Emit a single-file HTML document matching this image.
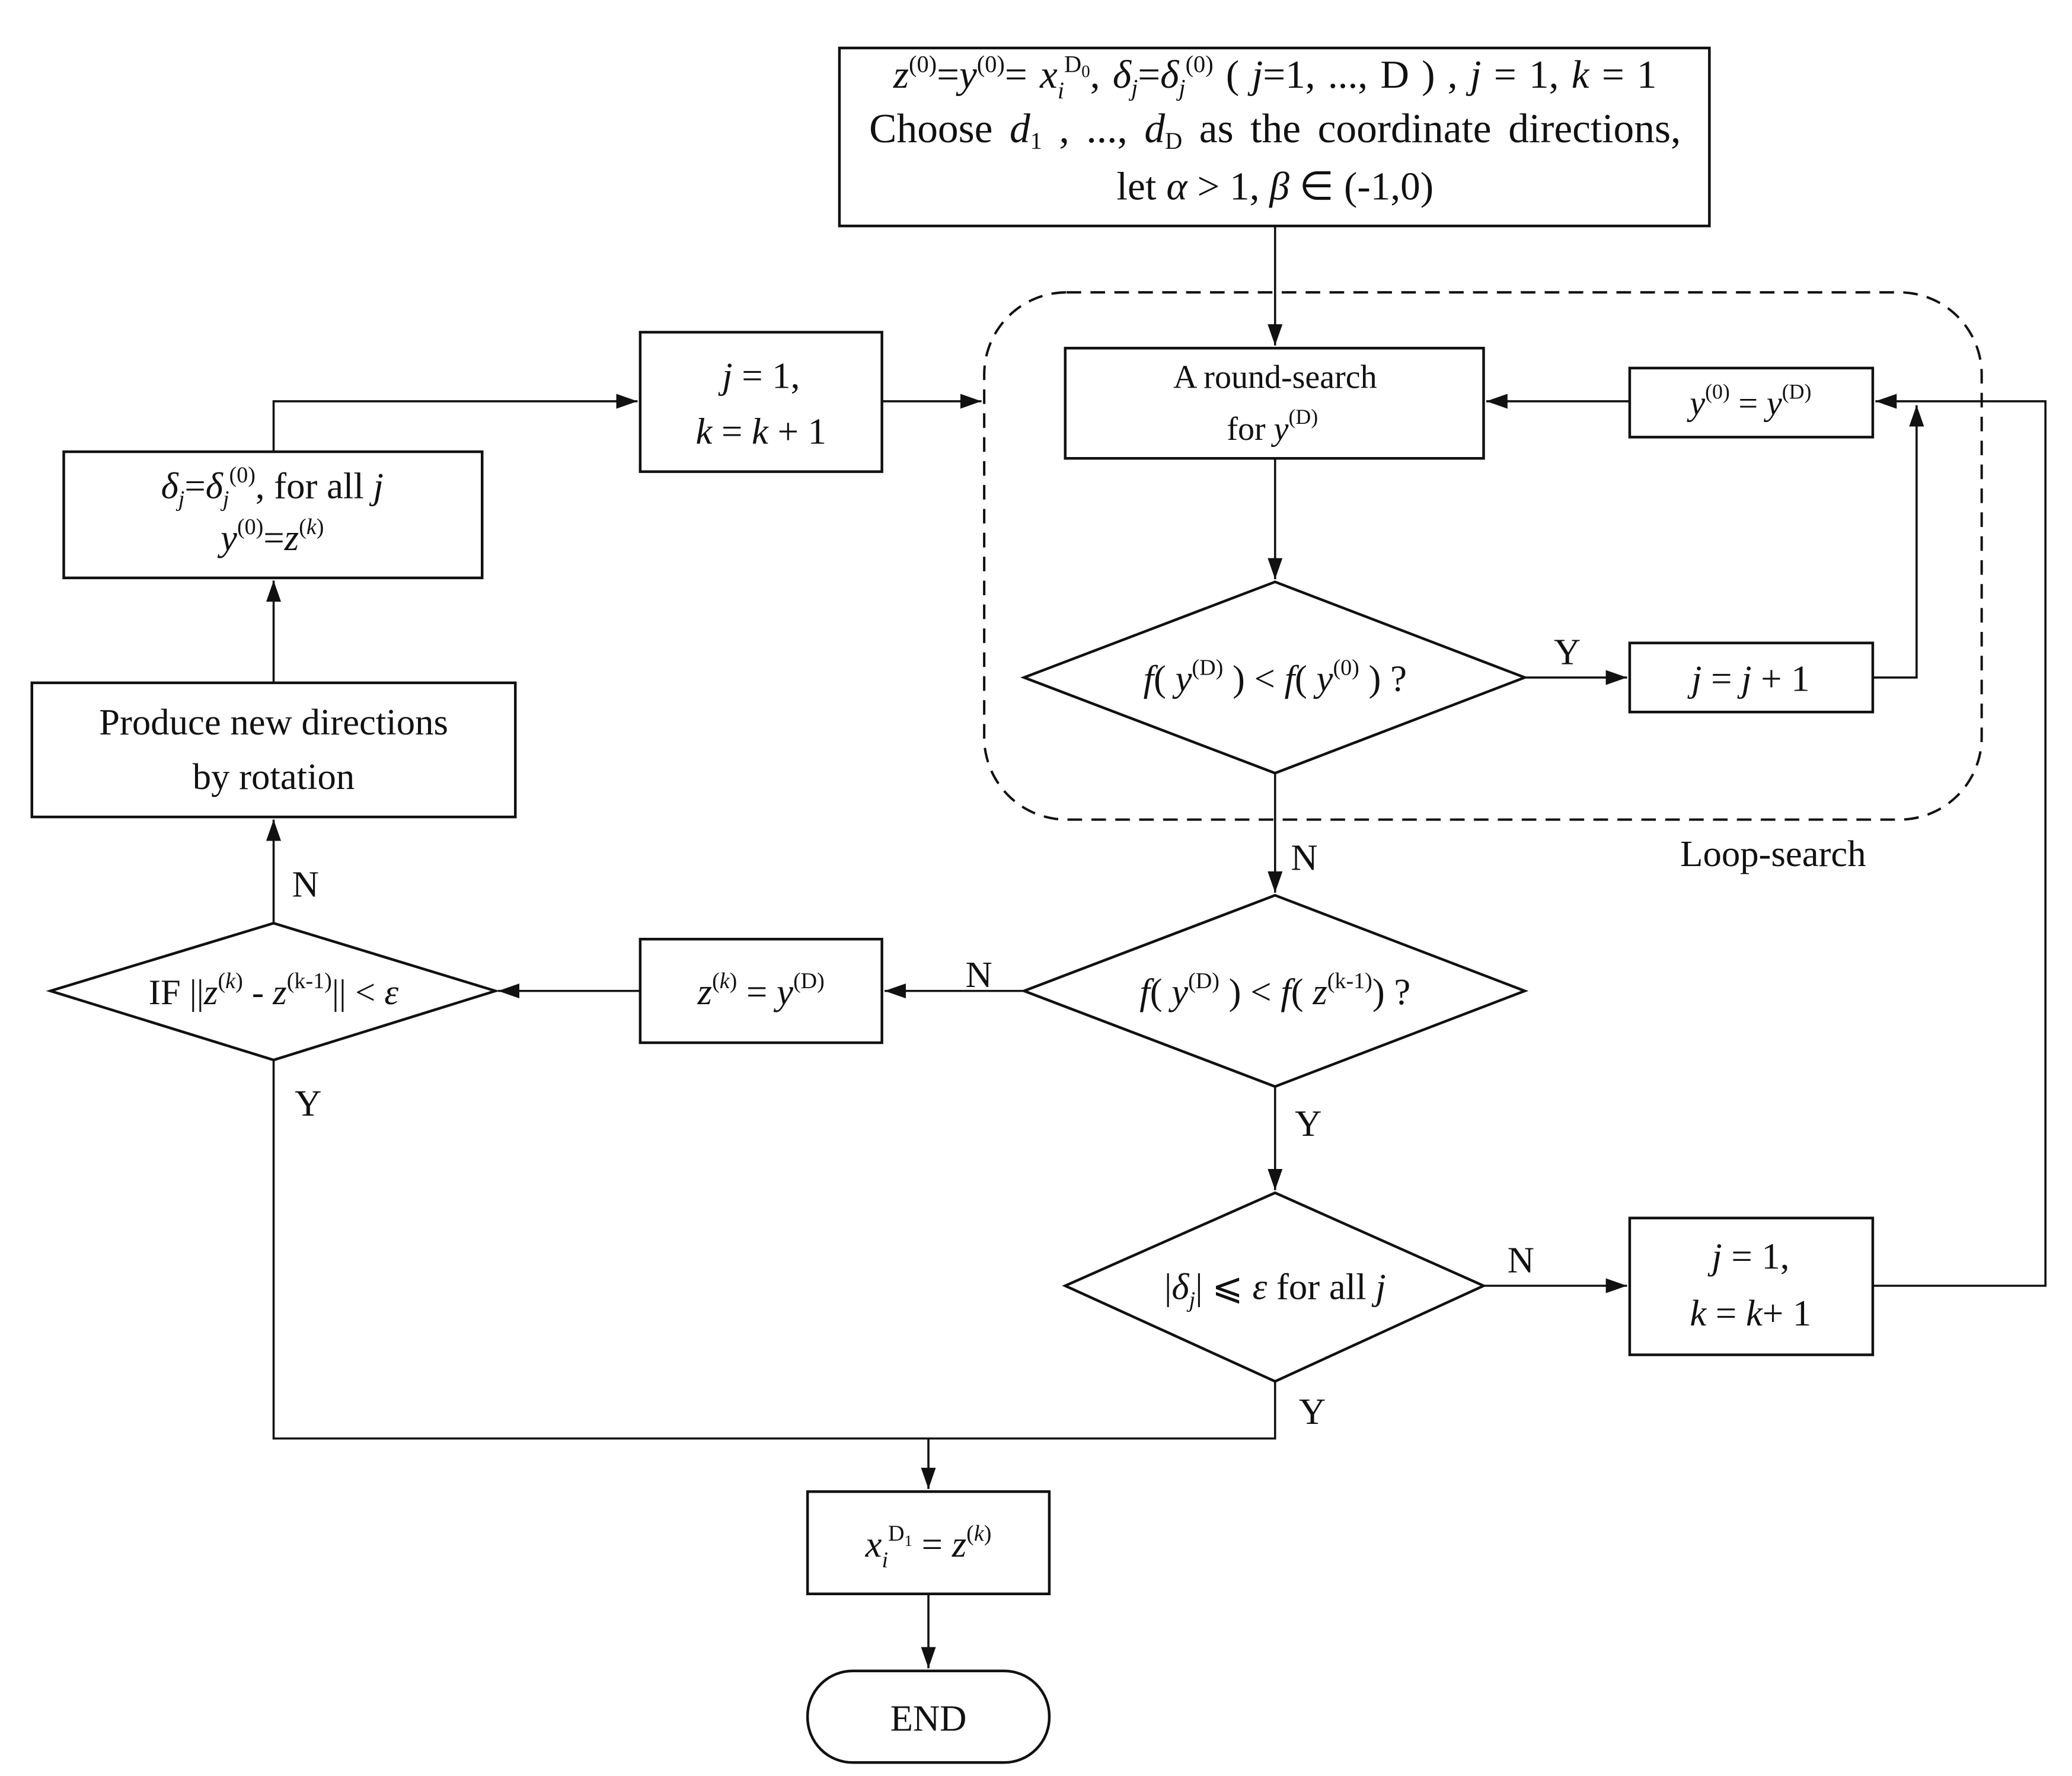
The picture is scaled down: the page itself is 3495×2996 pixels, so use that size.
<!DOCTYPE html>
<html><head><meta charset="utf-8"><style>
html,body{margin:0;padding:0;background:#fff}
svg{display:block}
text{font-family:"Liberation Serif",serif;fill:#111}
.i{font-style:italic}
</style></head><body>
<svg width="3495" height="2996" viewBox="0 0 1560 1337" xmlns="http://www.w3.org/2000/svg">
<defs>
<marker id="b" viewBox="0 0 10 10" refX="10" refY="5" markerWidth="16" markerHeight="16" markerUnits="userSpaceOnUse" orient="auto"><path d="M0,1.5 L10,5 L0,8.5 z" fill="#111"/></marker></defs>
<g fill="none" stroke="#111" stroke-width="2">
<rect x="632" y="36" width="655" height="134"/>
<rect x="741" y="220" width="751" height="397" rx="62" stroke-dasharray="11,7" stroke-width="1.8"/>
<rect x="802" y="262" width="315" height="83"/>
<rect x="1227" y="277" width="183" height="52"/>
<rect x="1227" y="484" width="183" height="52"/>
<rect x="482" y="250" width="182" height="105"/>
<rect x="48" y="340" width="315" height="95"/>
<rect x="24" y="514" width="364" height="101"/>
<rect x="482" y="707" width="182" height="78"/>
<rect x="1227" y="917" width="183" height="103"/>
<rect x="608" y="1123" width="182" height="77"/>
<rect x="608" y="1258" width="182" height="69" rx="34"/>
<path d="M960,438 L1148,510 L960,582 L771,510 Z"/>
<path d="M960,674 L1148,746 L960,818 L771,746 Z"/>
<path d="M206,695 L373,746 L206,798 L38,746 Z"/>
<path d="M960,898 L1117,968 L960,1040 L802,968 Z"/>
</g>
<g fill="none" stroke="#111" stroke-width="1.6">
<path d="M960,170 V260" marker-end="url(#b)"/>
<path d="M1227,302 H1119" marker-end="url(#b)"/>
<path d="M960,345 V436" marker-end="url(#b)"/>
<path d="M1148,510 H1225" marker-end="url(#b)"/>
<path d="M1410,510 H1443 V305" marker-end="url(#b)"/>
<path d="M960,582 V672" marker-end="url(#b)"/>
<path d="M771,746 H666" marker-end="url(#b)"/>
<path d="M482,746 H375" marker-end="url(#b)"/>
<path d="M206,695 V617" marker-end="url(#b)"/>
<path d="M206,514 V437" marker-end="url(#b)"/>
<path d="M206,340 V302 H480" marker-end="url(#b)"/>
<path d="M664,302 H739" marker-end="url(#b)"/>
<path d="M960,818 V896" marker-end="url(#b)"/>
<path d="M1117,968 H1225" marker-end="url(#b)"/>
<path d="M1410,968 H1540 V302 H1412" marker-end="url(#b)"/>
<path d="M960,1040 V1083 H206 V798"/>
<path d="M699,1083 V1121" marker-end="url(#b)"/>
<path d="M699,1200 V1256" marker-end="url(#b)"/>
</g>
<g font-size="28">
<text x="960" y="66" text-anchor="middle" font-size="30" word-spacing="2"><tspan class="i">z</tspan><tspan font-size="18" dy="-12">(0)</tspan><tspan dy="12">=</tspan><tspan class="i">y</tspan><tspan font-size="18" dy="-12">(0)</tspan><tspan dy="12">= </tspan><tspan class="i">x</tspan><tspan class="i" font-size="18" dy="8">i</tspan><tspan font-size="18" dy="-20">D</tspan><tspan font-size="13" dy="4">0</tspan><tspan dy="8">, </tspan><tspan class="i">δ</tspan><tspan class="i" font-size="18" dy="6">j</tspan><tspan dy="-6">=</tspan><tspan class="i">δ</tspan><tspan class="i" font-size="18" dy="6">j</tspan><tspan font-size="18" dy="-18">(0)</tspan><tspan dy="12"> ( </tspan><tspan class="i">j</tspan><tspan>=1, ..., D ) , </tspan><tspan class="i">j</tspan><tspan> = 1, </tspan><tspan class="i">k</tspan><tspan> = 1</tspan></text>
<text x="960" y="107" text-anchor="middle" font-size="31" word-spacing="5"><tspan>Choose </tspan><tspan class="i">d</tspan><tspan font-size="18" dy="5">1</tspan><tspan dy="-5"> , ..., </tspan><tspan class="i">d</tspan><tspan font-size="18" dy="5">D</tspan><tspan dy="-5"> as the coordinate directions,</tspan></text>
<text x="960" y="150" text-anchor="middle" font-size="30">let <tspan class="i">α</tspan> &gt; 1, <tspan class="i">β</tspan> ∈ (-1,0)</text>
<text x="960" y="292" text-anchor="middle" font-size="25">A round-search</text>
<text x="958" y="331" text-anchor="middle" font-size="25">for <tspan class="i">y</tspan><tspan font-size="16" dy="-12">(D)</tspan></text>
<text x="1318" y="312" text-anchor="middle" font-size="26"><tspan class="i">y</tspan><tspan font-size="16" dy="-12">(0)</tspan><tspan dy="12"> = </tspan><tspan class="i">y</tspan><tspan font-size="16" dy="-12">(D)</tspan></text>
<text x="1318" y="520" text-anchor="middle" font-size="28"><tspan class="i">j</tspan> = <tspan class="i">j</tspan> + 1</text>
<text x="573" y="292" text-anchor="middle"><tspan class="i">j</tspan> = 1,</text>
<text x="573" y="334" text-anchor="middle"><tspan class="i">k</tspan> = <tspan class="i">k</tspan> + 1</text>
<text x="205" y="375" text-anchor="middle"><tspan class="i">δ</tspan><tspan class="i" font-size="17" dy="6">j</tspan><tspan dy="-6">=</tspan><tspan class="i">δ</tspan><tspan class="i" font-size="17" dy="6">j</tspan><tspan font-size="17" dy="-18">(0)</tspan><tspan dy="12">, for all </tspan><tspan class="i">j</tspan></text>
<text x="205" y="414" text-anchor="middle"><tspan class="i">y</tspan><tspan font-size="17" dy="-12">(0)</tspan><tspan dy="12">=</tspan><tspan class="i">z</tspan><tspan font-size="17" dy="-12">(</tspan><tspan class="i" font-size="17">k</tspan><tspan font-size="17">)</tspan></text>
<text x="206" y="553" text-anchor="middle">Produce new directions</text>
<text x="206" y="594" text-anchor="middle">by rotation</text>
<text x="960" y="520" text-anchor="middle"><tspan class="i">f</tspan>( <tspan class="i">y</tspan><tspan font-size="17" dy="-12">(D)</tspan><tspan dy="12"> ) &lt; </tspan><tspan class="i">f</tspan>( <tspan class="i">y</tspan><tspan font-size="17" dy="-12">(0)</tspan><tspan dy="12"> ) ?</tspan></text>
<text x="960" y="756" text-anchor="middle"><tspan class="i">f</tspan>( <tspan class="i">y</tspan><tspan font-size="17" dy="-12">(D)</tspan><tspan dy="12"> ) &lt; </tspan><tspan class="i">f</tspan>( <tspan class="i">z</tspan><tspan font-size="17" dy="-12">(k-1)</tspan><tspan dy="12">) ?</tspan></text>
<text x="573" y="756" text-anchor="middle"><tspan class="i">z</tspan><tspan font-size="17" dy="-12">(</tspan><tspan class="i" font-size="17">k</tspan><tspan font-size="17">)</tspan><tspan dy="12"> = </tspan><tspan class="i">y</tspan><tspan font-size="17" dy="-12">(D)</tspan></text>
<text x="206" y="756" text-anchor="middle" font-size="27">IF ||<tspan class="i">z</tspan><tspan font-size="17" dy="-12">(</tspan><tspan class="i" font-size="17">k</tspan><tspan font-size="17">)</tspan><tspan dy="12"> - </tspan><tspan class="i">z</tspan><tspan font-size="17" dy="-12">(k-1)</tspan><tspan dy="12">|| &lt; </tspan><tspan class="i">ε</tspan></text>
<text x="960" y="978" text-anchor="middle">|<tspan class="i">δ</tspan><tspan class="i" font-size="17" dy="6">j</tspan><tspan dy="-6">| ⩽ </tspan><tspan class="i">ε</tspan> for all <tspan class="i">j</tspan></text>
<text x="1318" y="955" text-anchor="middle"><tspan class="i">j</tspan> = 1,</text>
<text x="1318" y="998" text-anchor="middle"><tspan class="i">k</tspan> = <tspan class="i">k</tspan>+ 1</text>
<text x="699" y="1172" text-anchor="middle"><tspan class="i">x</tspan><tspan class="i" font-size="17" dy="8">i</tspan><tspan font-size="17" dy="-20">D</tspan><tspan font-size="12" dy="4">1</tspan><tspan dy="8"> = </tspan><tspan class="i">z</tspan><tspan font-size="17" dy="-12">(</tspan><tspan class="i" font-size="17">k</tspan><tspan font-size="17">)</tspan></text>
<text x="699" y="1303" text-anchor="middle">END</text>
<text x="1180" y="500" text-anchor="middle">Y</text>
<text x="982" y="655" text-anchor="middle">N</text>
<text x="1335" y="652" text-anchor="middle">Loop-search</text>
<text x="737" y="743" text-anchor="middle">N</text>
<text x="230" y="675" text-anchor="middle">N</text>
<text x="232" y="840" text-anchor="middle">Y</text>
<text x="985" y="855" text-anchor="middle">Y</text>
<text x="1145" y="958" text-anchor="middle">N</text>
<text x="988" y="1072" text-anchor="middle">Y</text>
</g>
</svg>
</body></html>
